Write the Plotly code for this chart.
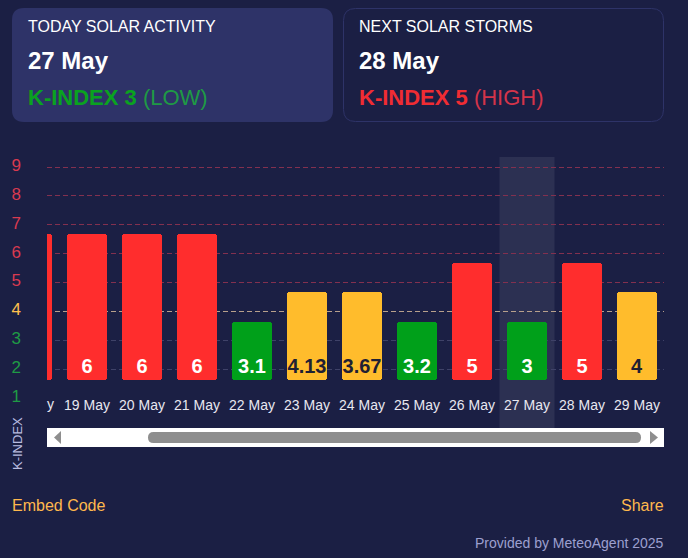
import plotly.graph_objects as go

dates = ["18 May", "19 May", "20 May", "21 May", "22 May", "23 May",
         "24 May", "25 May", "26 May", "27 May", "28 May", "29 May"]
kp_values = [6, 6, 6, 6, 3.1, 4.13, 3.67, 3.2, 5, 3, 5, 4]
today = "27 May"

high_ticks = [5, 6, 7, 8, 9]
mid_ticks = [4]
low_ticks = [1, 2, 3]

BG = "#1b1f44"
CARD = "#2e3368"
RED = "#ff2d2d"
AMBER = "#ffbc2c"
GREEN = "#00a01a"
FONT = "Liberation Sans"
W, H = 688, 558


def px(x):
    return x / W


def py(y):
    return 1 - y / H


def rounded_rect(x0, y0, x1, y1, r):
    # paper coords from pixel coords, corners as quadratic curves
    pts = [
        f"M{px(x0 + r)},{py(y0)}", f"L{px(x1 - r)},{py(y0)}",
        f"Q{px(x1)},{py(y0)} {px(x1)},{py(y0 + r)}", f"L{px(x1)},{py(y1 - r)}",
        f"Q{px(x1)},{py(y1)} {px(x1 - r)},{py(y1)}", f"L{px(x0 + r)},{py(y1)}",
        f"Q{px(x0)},{py(y1)} {px(x0)},{py(y1 - r)}", f"L{px(x0)},{py(y0 + r)}",
        f"Q{px(x0)},{py(y0)} {px(x0 + r)},{py(y0)}", "Z",
    ]
    return " ".join(pts)


def level_color(level):
    if level >= 5:
        return RED
    if level == 4:
        return AMBER
    return GREEN


levels = [round(v) for v in kp_values]
colors = [level_color(v) for v in levels]
text_colors = ["#1f2033" if v == 4 else "white" for v in levels]

fig = go.Figure()

# empty traces so the extra y axes (one per colour band) get drawn
for axis in ["y", "y2", "y3"]:
    fig.add_trace(go.Scatter(x=dates, y=[None] * len(dates), yaxis=axis, showlegend=False))

# bars sit on their own scale, level 1 is the baseline
fig.add_trace(
    go.Bar(
        x=dates,
        y=[v - 1 for v in levels],
        base=1,
        yaxis="y4",
        width=0.727,
        marker=dict(color=colors, line_width=0, cornerradius=3),
        text=[str(v) for v in kp_values],
        textposition="inside",
        insidetextanchor="start",
        textangle=0,
        constraintext="none",
        insidetextfont=dict(family=FONT, size=20, color=text_colors, weight="bold"),
        showlegend=False,
    )
)

domain = [py(399), py(157)]
left_range = [1 - 1 / 28.875, 9 + 10 / 28.875]
bar_range = [1 - 19 / 29.2, 1 + 223 / 29.2]


def grid_axis(ticks, color, gridcolor, **kw):
    return dict(
        domain=domain,
        range=left_range,
        automargin=False,
        tickmode="array",
        tickvals=ticks,
        ticktext=[str(t) for t in ticks],
        tickfont=dict(family=FONT, size=17, color=color),
        ticklabelstandoff=25,
        ticklabelshift=-2,
        ticklen=0,
        showgrid=True,
        gridcolor=gridcolor,
        griddash="5px,3px",
        gridwidth=1,
        zeroline=False,
        showline=False,
        **kw,
    )


shapes = [
    # cards
    dict(type="path", path=rounded_rect(12, 8, 333, 122, 12), xref="paper", yref="paper",
         fillcolor=CARD, line_width=0, layer="below"),
    dict(type="path", path=rounded_rect(343.5, 8.5, 663.5, 121.5, 12), xref="paper", yref="paper",
         fillcolor=BG, line=dict(color=CARD, width=1), layer="below"),
    # today highlight
    dict(type="rect", xref="x", yref="paper", x0=dates.index(today) - 0.5, x1=dates.index(today) + 0.5,
         y0=py(428), y1=py(157), fillcolor="rgba(255,255,255,0.08)", line_width=0, layer="below"),
    # scrollbar
    dict(type="rect", xref="paper", yref="paper", x0=px(47), x1=px(664), y0=py(447), y1=py(428),
         fillcolor="white", line_width=0),
    dict(type="path", path=rounded_rect(148, 432, 641, 443, 5.5), xref="paper", yref="paper",
         fillcolor="#8e8e8e", line_width=0),
    dict(type="path", xref="paper", yref="paper", fillcolor="#8e8e8e", line_width=0,
         path=f"M{px(54)},{py(437.5)} L{px(61)},{py(431)} L{px(61)},{py(444)} Z"),
    dict(type="path", xref="paper", yref="paper", fillcolor="#8e8e8e", line_width=0,
         path=f"M{px(658)},{py(437.5)} L{px(650)},{py(431)} L{px(650)},{py(444)} Z"),
]


def label(text, x, y, size, color, anchor="left", **kw):
    return dict(text=text, xref="paper", yref="paper", x=px(x), y=py(y), showarrow=False,
                xanchor=anchor, yanchor="middle", borderpad=0, borderwidth=0,
                font=dict(family=FONT, size=size, color=color), **kw)


annotations = [
    label("TODAY SOLAR ACTIVITY", 28, 27, 16, "white"),
    label("<b>27 May</b>", 28, 60, 24, "white"),
    label("<b>K-INDEX 3</b><span style='color:#1f9a45'> (LOW)</span>", 28, 97, 22, "#0aa31f"),
    label("NEXT SOLAR STORMS", 359, 27, 16, "white"),
    label("<b>28 May</b>", 359, 60, 24, "white"),
    label("<b>K-INDEX 5</b><span style='color:#d4344a'> (HIGH)</span>", 359, 97, 22, "#f02c33"),
    label("y", 47, 404, 14, "#e8e8f0"),
    label("K-INDEX", 17, 444, 13, "#b9bce0", anchor="center", textangle=-90),
    label("Embed Code", 12, 505, 16, "#ffb84d"),
    label("Share", 664, 505, 16, "#ffb84d", anchor="right"),
    label("Provided by MeteoAgent 2025", 664, 543, 14, "#9da0d0", anchor="right"),
]

fig.update_layout(
    width=W,
    height=H,
    margin=dict(l=0, r=0, t=0, b=0),
    paper_bgcolor=BG,
    plot_bgcolor="rgba(0,0,0,0)",
    showlegend=False,
    bargap=0,
    shapes=shapes,
    annotations=annotations,
    xaxis=dict(
        domain=[px(47), px(664)],
        type="category",
        categoryorder="array",
        categoryarray=dates,
        range=[15 / 55, 632 / 55],
        automargin=False,
        showgrid=False,
        zeroline=False,
        ticklen=0,
        ticklabelstandoff=-4,
        tickfont=dict(family=FONT, size=14, color="#e8e8f0"),
        tickangle=0,
    ),
    yaxis=grid_axis(high_ticks, "#d93a50", "#83304f"),
    yaxis2=grid_axis(mid_ticks, "#ffc04d", "#b8a08c", overlaying="y", anchor="x"),
    yaxis3=grid_axis(low_ticks, "#1f9a45", "#3f4268", overlaying="y", anchor="x"),
    yaxis4=dict(domain=domain, range=bar_range, overlaying="y", anchor="x", visible=False),
)

# page body margin would push the chart off the window
fig.write_html(
    "out.html",
    config={"displayModeBar": False},
    post_script="document.body.style.margin='0';document.body.style.overflow='hidden';",
)
